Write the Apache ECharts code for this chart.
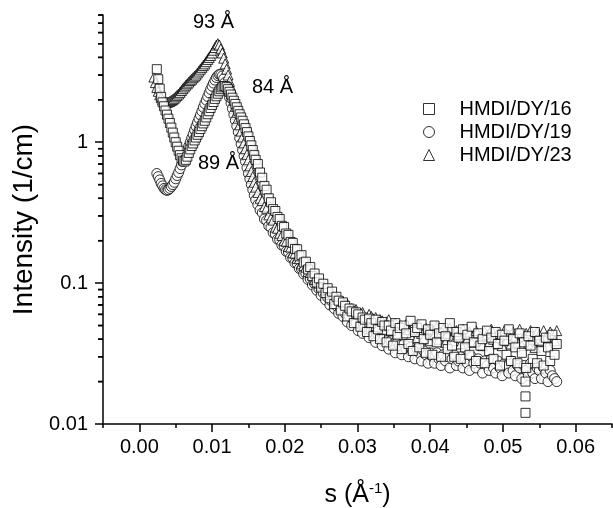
<!DOCTYPE html>
<html><head><meta charset="utf-8">
<script src="https://cdn.jsdelivr.net/npm/echarts@6/dist/echarts.min.js"></script>
<style>html,body{margin:0;padding:0;background:#fff}#c{width:613px;height:508px}</style>
</head><body><div id="c"></div>
<script>
// scattering vector s (1/Å): dense part around the peaks
const sPeak = [
0.0020,0.0022,0.0024,0.0026,0.0028,0.0030,0.0032,0.0034,0.0036,0.0038,
0.0040,0.0042,0.0044,0.0046,0.0048,0.0050,0.0052,0.0054,0.0056,0.0058,
0.0060,0.0062,0.0064,0.0066,0.0068,0.0070,0.0072,0.0074,0.0076,0.0078,
0.0080,0.0082,0.0084,0.0086,0.0088,0.0090,0.0092,0.0094,0.0096,0.0098,
0.0100,0.0102,0.0104,0.0106,0.0108,0.0110,0.0112,0.0114,0.0116,0.0118,
0.0120,0.0122,0.0124,0.0126,0.0128,0.0130,0.0132,0.0134,0.0136,0.0138,
0.0140,0.0142,0.0144,0.0146,0.0148,0.0150,0.0152,0.0154,0.0156,0.0158,
0.0160
];
// scattering vector s (1/Å): tail
const sTail = [
0.0163,0.0166,0.0169,0.0172,0.0175,0.0178,0.0181,0.0184,0.0187,0.0190,
0.0193,0.0196,0.0199,0.0202,0.0205,0.0208,0.0211,0.0214,0.0217,0.0220,
0.0223,0.0226,0.0229,0.0232,0.0235,0.0238,0.0241,0.0244,0.0247,0.0250,
0.0253,0.0256,0.0259,0.0262,0.0265,0.0268,0.0271,0.0274,0.0277,0.0280,
0.0283,0.0286,0.0289,0.0292,0.0295,0.0298,0.0301,0.0304,0.0307,0.0310,
0.0313,0.0316,0.0319,0.0322,0.0325,0.0328,0.0331,0.0334,0.0337,0.0340,
0.0343,0.0346,0.0349,0.0352,0.0355,0.0358,0.0361,0.0364,0.0367,0.0370,
0.0373,0.0376,0.0379,0.0382,0.0385,0.0388,0.0391,0.0394,0.0397,0.0400,
0.0403,0.0406,0.0409,0.0412,0.0415,0.0418,0.0421,0.0424,0.0427,0.0430,
0.0433,0.0436,0.0439,0.0442,0.0445,0.0448,0.0451,0.0454,0.0457,0.0460,
0.0463,0.0466,0.0469,0.0472,0.0475,0.0478,0.0481,0.0484,0.0487,0.0490,
0.0493,0.0496,0.0499,0.0502,0.0505,0.0508,0.0511,0.0514,0.0517,0.0520,
0.0523,0.0526,0.0529,0.0532,0.0535,0.0538,0.0541,0.0544,0.0547,0.0550,
0.0553,0.0556,0.0559,0.0562,0.0565,0.0568,0.0571,0.0574
];
// HMDI/DY/16 (squares)
const int16Peak = [
null,null,3.3,2.8,2.4,2.1,1.92,1.8,1.68,1.57,
1.47,1.37,1.27,1.17,1.08,1.0,0.93,0.87,0.81,0.77,
0.74,0.73,0.75,0.79,0.84,0.89,0.94,0.98,1.03,1.08,
1.13,1.18,1.24,1.3,1.36,1.42,1.5,1.58,1.66,1.75,
1.84,1.93,2.03,2.12,2.21,2.3,2.38,2.45,2.5,2.5,
2.46,2.38,2.28,2.18,2.07,1.97,1.87,1.77,1.67,1.58,
1.5,1.42,1.34,1.26,1.18,1.1,1.02,0.95,0.88,0.81,
0.75
];
const int16Tail = [
0.70,0.61,0.56,0.49,0.46,0.40,0.375,0.335,0.325,0.295,
0.285,0.255,0.25,0.225,0.22,0.196,0.193,0.175,0.174,0.155,
0.158,0.14,0.142,0.125,0.13,0.112,0.117,0.101,0.108,0.093,
0.099,0.085,0.092,0.078,0.087,0.071,0.08,0.075,0.064,0.073,
0.069,0.058,0.066,0.063,0.052,0.062,0.06,0.049,0.057,0.055,
0.045,0.056,0.052,0.042,0.055,0.047,0.04,0.053,0.05,0.038,
0.05,0.046,0.036,0.052,0.043,0.048,0.034,0.05,0.044,0.037,
0.054,0.033,0.045,0.048,0.035,0.051,0.04,0.032,0.047,0.043,
0.031,0.05,0.038,0.044,0.03,0.048,0.042,0.034,0.052,0.036,
0.03,0.045,0.041,0.029,0.047,0.035,0.043,0.031,0.049,0.038,
0.028,0.044,0.036,0.04,0.027,0.046,0.033,0.041,0.029,0.045,
0.037,0.026,0.043,0.039,0.031,0.047,0.028,0.04,0.035,0.027,
0.044,0.032,0.038,0.025,0.042,0.036,0.029,0.045,0.027,0.039,
0.033,0.026,0.041,0.035,0.028,0.043,0.031,0.037
];
const int16ExtraS = [0.0531,0.0531,0.0531];
const int16Extra = [0.012,0.0157,0.020];
// HMDI/DY/19 (circles)
const int19Peak = [
null,null,0.6,0.57,0.54,0.51,0.49,0.47,0.46,0.455,
0.46,0.47,0.485,0.5,0.52,0.55,0.58,0.61,0.65,0.69,
0.73,0.78,0.83,0.88,0.94,1.0,1.07,1.14,1.22,1.3,
1.38,1.47,1.56,1.66,1.77,1.88,1.99,2.11,2.24,2.37,
2.5,2.63,2.76,2.88,2.97,3.03,3.02,2.95,2.82,2.66,
2.48,2.28,2.08,1.9,1.73,1.57,1.43,1.3,1.18,1.07,
0.97,0.88,0.8,0.73,0.66,0.6,0.55,0.5,0.46,0.42,
0.39
];
const int19Tail = [
0.36,0.33,0.315,0.285,0.278,0.255,0.248,0.228,0.223,0.205,
0.203,0.186,0.184,0.168,0.166,0.152,0.151,0.139,0.138,0.127,
0.126,0.116,0.117,0.106,0.107,0.097,0.099,0.089,0.091,0.082,
0.085,0.076,0.079,0.07,0.074,0.066,0.069,0.061,0.065,0.058,
0.061,0.053,0.058,0.05,0.055,0.052,0.046,0.051,0.044,0.049,
0.047,0.041,0.046,0.044,0.038,0.043,0.041,0.036,0.042,0.039,
0.034,0.039,0.037,0.032,0.038,0.036,0.031,0.037,0.034,0.03,
0.035,0.033,0.029,0.034,0.032,0.028,0.033,0.031,0.027,0.032,
0.03,0.027,0.032,0.029,0.026,0.031,0.028,0.03,0.025,0.029,
0.031,0.026,0.028,0.03,0.025,0.029,0.027,0.024,0.03,0.027,
0.025,0.029,0.027,0.023,0.028,0.026,0.024,0.029,0.025,0.023,
0.028,0.025,0.022,0.027,0.026,0.023,0.028,0.024,0.022,0.026,
0.025,0.021,0.026,0.024,0.022,0.027,0.023,0.021,0.025,0.024,
0.021,0.025,0.023,0.02,0.024,0.022,0.021,0.02
];
// HMDI/DY/23 (triangles)
const int23Peak = [
2.9,2.65,2.45,2.3,2.17,2.07,2.0,1.96,1.93,1.92,
1.93,1.95,1.98,2.01,2.05,2.1,2.15,2.2,2.26,2.33,
2.4,2.47,2.54,2.6,2.67,2.74,2.8,2.87,2.94,3.0,
3.1,3.2,3.3,3.4,3.5,3.6,3.73,3.87,4.0,4.13,
4.3,4.5,4.7,4.9,5.0,4.9,4.6,4.3,3.95,3.6,
3.3,3.0,2.7,2.45,2.2,2.0,1.8,1.63,1.48,1.33,
1.2,1.09,0.99,0.9,0.82,0.75,0.68,0.62,0.57,0.52,
0.48
];
const int23Tail = [
0.44,0.40,0.385,0.35,0.34,0.305,0.29,0.28,0.25,0.245,
0.226,0.218,0.2,0.198,0.182,0.18,0.164,0.163,0.15,0.149,
0.137,0.133,0.13,0.121,0.119,0.114,0.106,0.106,0.1,0.096,
0.096,0.089,0.09,0.083,0.085,0.077,0.079,0.077,0.072,0.074,
0.07,0.071,0.065,0.066,0.061,0.065,0.06,0.058,0.062,0.056,
0.053,0.06,0.058,0.05,0.057,0.049,0.055,0.054,0.047,0.053,
0.055,0.046,0.051,0.052,0.044,0.05,0.049,0.043,0.051,0.047,
0.042,0.049,0.047,0.041,0.05,0.044,0.04,0.048,0.046,0.039,
0.047,0.043,0.049,0.04,0.045,0.047,0.038,0.044,0.048,0.041,
0.039,0.046,0.043,0.037,0.047,0.042,0.04,0.045,0.038,0.044,
0.046,0.039,0.042,0.036,0.045,0.043,0.038,0.047,0.04,0.037,
0.044,0.041,0.036,0.046,0.039,0.043,0.037,0.045,0.042,0.038,
0.047,0.036,0.042,0.044,0.037,0.046,0.04,0.035,0.045,0.043,
0.038,0.046,0.041,0.036,0.045,0.043,0.039,0.046
];
const seriesNames = ['HMDI/DY/16','HMDI/DY/19','HMDI/DY/23'];
const xTickValues = [0.00,0.01,0.02,0.03,0.04,0.05,0.06];
const yTickValues = [0.01,0.1,1];
const yMinorValues = [0.02,0.03,0.04,0.05,0.06,0.07,0.08,0.09,0.2,0.3,0.4,0.5,0.6,0.7,0.8,0.9,2,3,4,5,6,7,8];
const peakLabels = ['93 Å','84 Å','89 Å'];

function pairs(xs, ys){const out=[];for(let i=0;i<xs.length;i++){if(ys[i]!=null)out.push([xs[i],ys[i]]);}return out;}
const sAll = sPeak.concat(sTail);

const FONT = 'Liberation Sans, Arial, Helvetica, sans-serif';
const mk = {color:'#fff', borderColor:'#000', borderWidth:1};
const chart = echarts.init(document.getElementById('c'), null, {renderer:'canvas'});
const XMIN=-0.005, XMAX=0.065, YMIN=0.01, YMAX=8;
const annotations = [
  {type:'text',left:193,top:12,style:{text:peakLabels[0],font:'20px '+FONT,fill:'#000'}},
  {type:'text',left:252,top:77,style:{text:peakLabels[1],font:'20px '+FONT,fill:'#000'}},
  {type:'text',left:198,top:153,style:{text:peakLabels[2],font:'20px '+FONT,fill:'#000'}}
];
chart.setOption({
  animation:false,
  backgroundColor:'#fff',
  grid:{left:103,right:1,top:15,bottom:84,outerBoundsMode:'none',containLabel:false},
  legend:{
    data:seriesNames, orient:'vertical', left:418, top:94, itemGap:3,
    itemWidth:11, itemHeight:11,
    itemStyle:{color:'#fff',borderColor:'#000',borderWidth:1},
    textStyle:{fontFamily:FONT,fontSize:20,color:'#000',padding:[0,0,0,20]}
  },
  xAxis:[{
    type:'value', min:XMIN, max:XMAX, position:'bottom',
    axisLine:{show:true,onZero:false,lineStyle:{color:'#000',width:1.5}},
    axisTick:{show:true,length:8,customValues:xTickValues,lineStyle:{color:'#000',width:1.5}},
    axisLabel:{customValues:xTickValues,formatter:v=>v.toFixed(2),fontFamily:FONT,fontSize:20,color:'#000',margin:13},
    splitLine:{show:false},
    name:'{n|s (Å}{sup|-1}{n|)}', nameLocation:'middle', nameGap:57,
    nameTextStyle:{rich:{n:{fontFamily:FONT,fontSize:25,color:'#000'},sup:{fontFamily:FONT,fontSize:15,color:'#000',verticalAlign:'top',padding:[0,0,14,0]}}}
  },{
    type:'value', min:XMIN, max:XMAX, interval:0.005, position:'bottom',
    axisLine:{show:false,onZero:false},
    axisTick:{show:true,length:4,lineStyle:{color:'#000',width:1.5}},
    axisLabel:{show:false}, splitLine:{show:false}
  }],
  yAxis:[{
    type:'log', logBase:10, min:YMIN, max:YMAX, position:'left',
    axisLine:{show:true,onZero:false,lineStyle:{color:'#000',width:1.5}},
    axisTick:{show:true,length:8,customValues:yTickValues,lineStyle:{color:'#000',width:1.5}},
    axisLabel:{customValues:yTickValues,formatter:v=>String(+(+v).toPrecision(3)),fontFamily:FONT,fontSize:20,color:'#000',margin:15},
    splitLine:{show:false},
    name:'Intensity (1/cm)', nameLocation:'middle', nameGap:64, nameRotate:90,
    nameTextStyle:{fontFamily:FONT,fontSize:28,color:'#000'}
  }],
  graphic:annotations,
  series:[
    {type:'custom', coordinateSystem:'cartesian2d', xAxisIndex:0, yAxisIndex:0, clip:false, silent:true, z:10,
     encode:{x:0,y:1},
     data:yMinorValues.map(v=>[XMIN,v]),
     renderItem:function(params,api){
       const p=api.coord([api.value(0),api.value(1)]);
       return {type:'line',shape:{x1:p[0]-5,y1:p[1],x2:p[0],y2:p[1]},style:{stroke:'#000',fill:null,lineWidth:1.5}};
     }},
    {name:seriesNames[1],type:'scatter',symbol:'circle',symbolSize:10,itemStyle:mk,
     data:pairs(sAll,int19Peak.concat(int19Tail))},
    {name:seriesNames[2],type:'scatter',symbol:'triangle',symbolSize:10,itemStyle:mk,
     data:pairs(sAll,int23Peak.concat(int23Tail))},
    {name:seriesNames[0],type:'scatter',symbol:'rect',symbolSize:9,itemStyle:mk,
     data:pairs(sAll,int16Peak.concat(int16Tail)).concat(pairs(int16ExtraS,int16Extra))}
  ]
});
// minor log ticks, positioned through the y axis scale
const x0 = chart.convertToPixel({xAxisIndex:0}, XMIN);
const minorTicks = yMinorValues.map((v,i)=>{
  const y = chart.convertToPixel({yAxisIndex:0}, v);
  return {type:'line',id:'mt'+i,z:100,shape:{x1:x0-5,y1:y,x2:x0,y2:y},style:{stroke:'#000',lineWidth:1.5}};
});
chart.setOption({graphic:{elements:annotations.concat(minorTicks)}});
</script></body></html>
